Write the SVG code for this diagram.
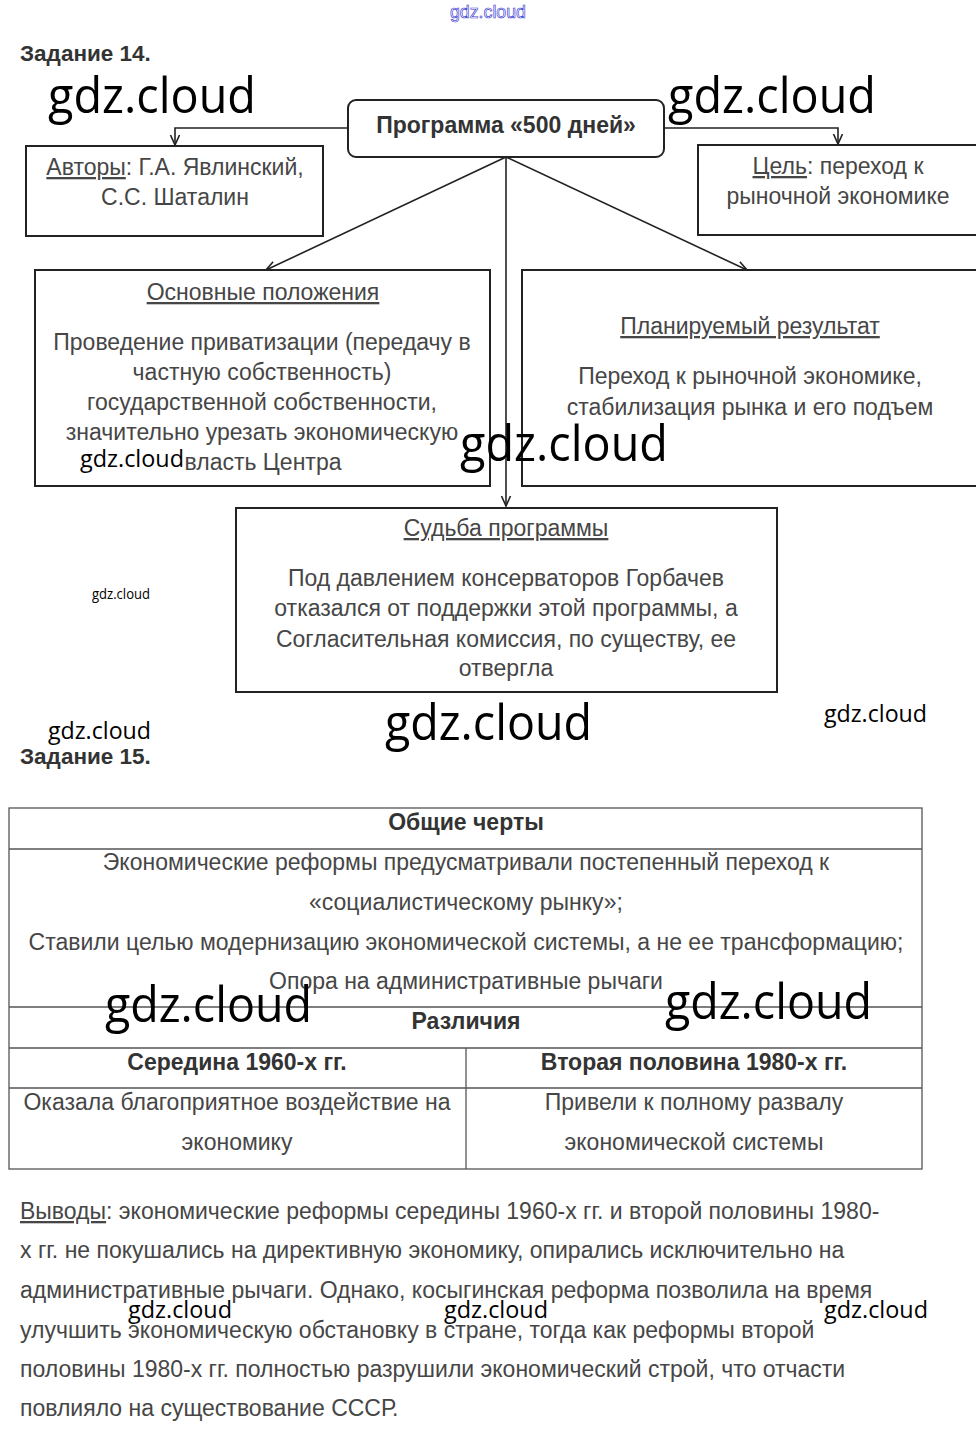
<svg xmlns="http://www.w3.org/2000/svg" width="976" height="1433" viewBox="0 0 976 1433">
<defs>
<marker id="v" markerWidth="12" markerHeight="12" refX="10" refY="6" orient="auto" markerUnits="userSpaceOnUse">
<polyline points="0,1.5 10,6 0,10.5" fill="none" stroke="#222" stroke-width="1.6"/>
</marker>
<style>
.t{font-family:"Liberation Sans",Arial,sans-serif;font-size:23px;fill:#464646;text-anchor:middle}
.l{font-family:"Liberation Sans",Arial,sans-serif;font-size:23px;fill:#464646}
.h{font-family:"Liberation Sans",Arial,sans-serif;font-size:23px;font-weight:bold;fill:#333;text-anchor:middle}
.z{font-family:"Liberation Sans",Arial,sans-serif;font-size:22.5px;font-weight:bold;fill:#333}
.w{font-family:"Open Sans","Noto Sans",sans-serif;fill:#000}
.box{fill:#fff;stroke:#222;stroke-width:2}
.c{fill:none;stroke:#222;stroke-width:1.6}
.g{fill:none;stroke:#555;stroke-width:1.3}
.u{text-decoration:underline}
</style>
</defs>
<rect width="976" height="1433" fill="#fff"/>

<text x="488" y="18" font-family="Liberation Sans,Arial,sans-serif" font-size="19" text-anchor="middle" fill="#fff" stroke="#3a3ad0" stroke-width="0.7" textLength="76" lengthAdjust="spacingAndGlyphs">gdz.cloud</text>

<text class="z" x="20" y="61">Задание 14.</text>

<g id="connectors">
<polyline class="c" points="348,128 175,128 175,145" marker-end="url(#v)"/>
<polyline class="c" points="664,128 838,128 838,144" marker-end="url(#v)"/>
<line class="c" x1="506" y1="157" x2="266" y2="270" marker-end="url(#v)"/>
<line class="c" x1="506" y1="157" x2="747" y2="270" marker-end="url(#v)"/>
<line class="c" x1="506" y1="157" x2="506" y2="506" marker-end="url(#v)"/>
</g>

<g id="main">
<rect class="box" x="348" y="100" width="316" height="57" rx="8"/>
<text class="h" x="506" y="133">Программа «500 дней»</text>
</g>

<g id="authors">
<rect class="box" x="26" y="146" width="297" height="90"/>
<text class="t" x="175" y="175"><tspan class="u">Авторы</tspan>: Г.А. Явлинский,</text>
<text class="t" x="175" y="205">С.С. Шаталин</text>
</g>

<g id="goal">
<path class="box" d="M976,145 H698 V235 H976"/>
<text class="t" x="838" y="174"><tspan class="u">Цель</tspan>: переход к</text>
<text class="t" x="838" y="204">рыночной экономике</text>
</g>

<g id="provisions">
<rect class="box" x="35" y="270" width="455" height="216"/>
<text class="t u" x="263" y="300">Основные положения</text>
<text class="t" x="262" y="350">Проведение приватизации (передачу в</text>
<text class="t" x="262" y="380">частную собственность)</text>
<text class="t" x="262" y="410">государственной собственности,</text>
<text class="t" x="262" y="440">значительно урезать экономическую</text>
<text class="t" x="263" y="470">власть Центра</text>
</g>

<g id="result">
<path class="box" d="M976,270 H522 V486 H976"/>
<text class="t u" x="750" y="334">Планируемый результат</text>
<text class="t" x="750" y="384">Переход к рыночной экономике,</text>
<text class="t" x="750" y="415">стабилизация рынка и его подъем</text>
</g>

<g id="fate">
<rect class="box" x="236" y="508" width="541" height="184"/>
<text class="t u" x="506" y="536">Судьба программы</text>
<text class="t" x="506" y="586">Под давлением консерваторов Горбачев</text>
<text class="t" x="506" y="616">отказался от поддержки этой программы, а</text>
<text class="t" x="506" y="647">Согласительная комиссия, по существу, ее</text>
<text class="t" x="506" y="676">отвергла</text>
</g>

<text class="z" x="20" y="764">Задание 15.</text>

<g id="table">
<rect class="g" x="9" y="808" width="913" height="361"/>
<line class="g" x1="9" y1="849" x2="922" y2="849"/>
<line class="g" x1="9" y1="1007" x2="922" y2="1007"/>
<line class="g" x1="9" y1="1048" x2="922" y2="1048"/>
<line class="g" x1="9" y1="1088" x2="922" y2="1088"/>
<line class="g" x1="466" y1="1048" x2="466" y2="1169"/>
<text class="h" x="466" y="830">Общие черты</text>
<text class="t" x="466" y="870">Экономические реформы предусматривали постепенный переход к</text>
<text class="t" x="466" y="910">«социалистическому рынку»;</text>
<text class="t" x="466" y="950">Ставили целью модернизацию экономической системы, а не ее трансформацию;</text>
<text class="t" x="466" y="989">Опора на административные рычаги</text>
<text class="h" x="466" y="1029">Различия</text>
<text class="h" x="237" y="1070">Середина 1960-х гг.</text>
<text class="h" x="694" y="1070">Вторая половина 1980-х гг.</text>
<text class="t" x="237" y="1110">Оказала благоприятное воздействие на</text>
<text class="t" x="237" y="1150">экономику</text>
<text class="t" x="694" y="1110">Привели к полному развалу</text>
<text class="t" x="694" y="1150">экономической системы</text>
</g>

<g id="conclusions">
<text class="l" x="20" y="1219"><tspan class="u">Выводы</tspan>: экономические реформы середины 1960-х гг. и второй половины 1980-</text>
<text class="l" x="20" y="1258">х гг. не покушались на директивную экономику, опирались исключительно на</text>
<text class="l" x="20" y="1298">административные рычаги. Однако, косыгинская реформа позволила на время</text>
<text class="l" x="20" y="1338">улучшить экономическую обстановку в стране, тогда как реформы второй</text>
<text class="l" x="20" y="1377">половины 1980-х гг. полностью разрушили экономический строй, что отчасти</text>
<text class="l" x="20" y="1416">повлияло на существование СССР.</text>
</g>

<g id="watermarks">
<text class="w" x="48" y="113" font-size="50" textLength="208" lengthAdjust="spacingAndGlyphs">gdz.cloud</text>
<text class="w" x="668" y="113" font-size="50" textLength="208" lengthAdjust="spacingAndGlyphs">gdz.cloud</text>
<text class="w" x="460" y="461" font-size="50" textLength="208" lengthAdjust="spacingAndGlyphs">gdz.cloud</text>
<text class="w" x="80" y="467" font-size="24" textLength="104" lengthAdjust="spacingAndGlyphs">gdz.cloud</text>
<text class="w" x="92" y="599" font-size="14" textLength="58" lengthAdjust="spacingAndGlyphs">gdz.cloud</text>
<text class="w" x="48" y="739" font-size="24" textLength="103" lengthAdjust="spacingAndGlyphs">gdz.cloud</text>
<text class="w" x="385" y="740" font-size="50" textLength="207" lengthAdjust="spacingAndGlyphs">gdz.cloud</text>
<text class="w" x="824" y="722" font-size="24" textLength="103" lengthAdjust="spacingAndGlyphs">gdz.cloud</text>
<text class="w" x="105" y="1022" font-size="50" textLength="207" lengthAdjust="spacingAndGlyphs">gdz.cloud</text>
<text class="w" x="665" y="1019" font-size="50" textLength="207" lengthAdjust="spacingAndGlyphs">gdz.cloud</text>
<text class="w" x="128" y="1318" font-size="24" textLength="104" lengthAdjust="spacingAndGlyphs">gdz.cloud</text>
<text class="w" x="444" y="1318" font-size="24" textLength="104" lengthAdjust="spacingAndGlyphs">gdz.cloud</text>
<text class="w" x="824" y="1318" font-size="24" textLength="104" lengthAdjust="spacingAndGlyphs">gdz.cloud</text>
</g>
</svg>
